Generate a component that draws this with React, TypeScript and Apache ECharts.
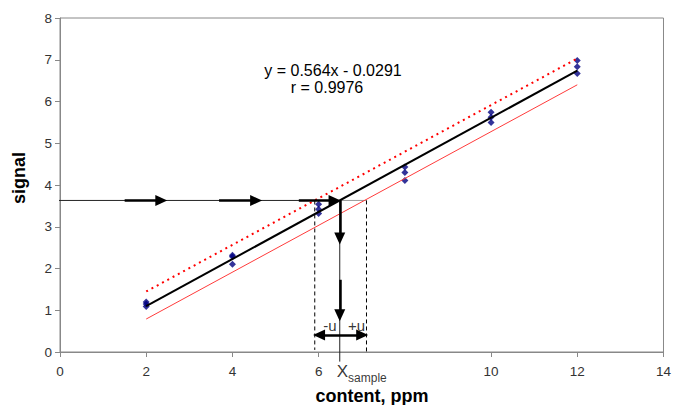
import React, { useEffect, useRef } from "react";
import * as echarts from "echarts";

// calibration standards (ppm) and three replicate signals each
const concentrations = [2, 4, 6, 8, 10, 12];
const signalRep1 = [1.09, 2.1, 3.32, 4.11, 5.5, 6.67];
const signalRep2 = [1.15, 2.28, 3.42, 4.3, 5.62, 6.83];
const signalRep3 = [1.2, 2.32, 3.54, 4.43, 5.74, 6.98];

// regression
const slope = 0.564;
const intercept = -0.0291;
const fitRange = [2, 12];
// confidence band ends (at x = 2 and x = 12)
const upperBand = [1.45, 7.03];
const lowerBand = [0.79, 6.4];

// sample evaluation
const sampleSignal = 3.63;
const sampleContent = 6.49;
const lowerContent = 5.91;
const upperContent = 7.11;

const xTickValues = [0, 2, 4, 6, 10, 12, 14];

const FONT = "Liberation Sans, Arial, sans-serif";

export default function App() {
  const ref = useRef<HTMLDivElement>(null);
  useEffect(() => {
    if (!ref.current) return;
    const chart = echarts.init(ref.current, undefined, { renderer: "svg" });
    const points: number[][] = [];
    concentrations.forEach((c, i) => {
      points.push([c, signalRep1[i]]);
      points.push([c, signalRep2[i]]);
      points.push([c, signalRep3[i]]);
    });
    const fit = fitRange.map((x) => [x, slope * x + intercept]);
    const arrowStyle = { color: "#000", width: 2.5, type: "solid" as const };
    chart.setOption({
      animation: false,
      textStyle: { fontFamily: FONT },
      grid: {
        left: 60,
        right: 8,
        top: 18,
        bottom: 53,
        show: true,
        borderColor: "#888",
        borderWidth: 1,
      },
      xAxis: {
        type: "value",
        min: 0,
        max: 14,
        interval: 2,
        axisLine: { lineStyle: { color: "#888", width: 1 } },
        axisTick: { show: true, length: 5, customValues: xTickValues, lineStyle: { color: "#888" } },
        axisLabel: { customValues: xTickValues, color: "#333", fontSize: 13.5, margin: 12, fontFamily: FONT },
        splitLine: { show: false },
      },
      yAxis: {
        type: "value",
        min: 0,
        max: 8,
        interval: 1,
        axisLine: { show: true, lineStyle: { color: "#888", width: 1 } },
        axisTick: { show: true, length: 5, lineStyle: { color: "#888" } },
        axisLabel: { color: "#333", fontSize: 13.5, margin: 8, fontFamily: FONT },
        splitLine: { show: false },
      },
      graphic: [
        {
          type: "text",
          x: 333,
          y: 70,
          style: { text: "y = 0.564x - 0.0291", font: `16px ${FONT}`, fill: "#000", align: "center", verticalAlign: "middle" },
        },
        {
          type: "text",
          x: 327,
          y: 87,
          style: { text: "r = 0.9976", font: `16px ${FONT}`, fill: "#000", align: "center", verticalAlign: "middle" },
        },
        {
          type: "text",
          x: 19,
          y: 178,
          rotation: Math.PI / 2,
          style: { text: "signal", font: `bold 18px ${FONT}`, fill: "#000", align: "center", verticalAlign: "middle" },
        },
        {
          type: "text",
          x: 372,
          y: 396,
          style: { text: "content, ppm", font: `bold 18px ${FONT}`, fill: "#000", align: "center", verticalAlign: "middle" },
        },
      ],
      series: [
        {
          type: "line",
          data: [[upperContent, sampleSignal], [sampleContent, sampleSignal]],
          symbol: "none",
          clip: false,
          lineStyle: { color: "#999", width: 1 },
        },
        {
          type: "line",
          data: [[-0.25, sampleSignal], [sampleContent, sampleSignal]],
          symbol: "none",
          clip: false,
          lineStyle: { color: "#222", width: 1 },
        },
        {
          type: "line",
          data: [[sampleContent, sampleSignal], [sampleContent, -0.23]],
          symbol: "none",
          clip: false,
          lineStyle: { color: "#222", width: 1 },
        },
        {
          type: "line",
          data: [[lowerContent, sampleSignal], [lowerContent, 0.05]],
          symbol: "none",
          lineStyle: { color: "#000", width: 1, type: [4, 3] },
        },
        {
          type: "line",
          data: [[upperContent, sampleSignal], [upperContent, 0]],
          symbol: "none",
          lineStyle: { color: "#000", width: 1, type: [4, 3] },
        },
        {
          type: "line",
          data: [[fitRange[0], upperBand[0]], [fitRange[1], upperBand[1]]],
          symbol: "none",
          lineStyle: { color: "#ff0000", width: 2, type: [2, 4] },
        },
        {
          type: "line",
          data: [[fitRange[0], lowerBand[0]], [fitRange[1], lowerBand[1]]],
          symbol: "none",
          lineStyle: { color: "#ff3b3b", width: 1 },
        },
        {
          type: "line",
          data: fit,
          symbol: "none",
          lineStyle: { color: "#000", width: 2 },
        },
        {
          type: "scatter",
          data: points,
          symbol: "diamond",
          symbolSize: 7,
          itemStyle: { color: "#000080" },
        },
        {
          type: "line",
          data: [],
          clip: false,
          markLine: {
            silent: true,
            symbol: ["none", "triangle"],
            symbolSize: [11, 12],
            label: { show: false },
            lineStyle: arrowStyle,
            data: [
              [{ coord: [1.5, sampleSignal] }, { coord: [2.35, sampleSignal] }],
              [{ coord: [3.69, sampleSignal] }, { coord: [4.55, sampleSignal] }],
              [{ coord: [5.54, sampleSignal] }, { coord: [sampleContent - 0.12, sampleSignal] }],
              [{ coord: [sampleContent, sampleSignal] }, { coord: [sampleContent, 2.72] }],
              [{ coord: [sampleContent, 1.73] }, { coord: [sampleContent, 0.88] }],
            ],
          },
        },
        {
          type: "line",
          data: [],
          clip: false,
          markLine: {
            silent: true,
            symbol: ["triangle", "triangle"],
            symbolSize: [11, 12],
            label: { show: false },
            lineStyle: arrowStyle,
            data: [[{ coord: [lowerContent + 0.1, 0.41] }, { coord: [upperContent - 0.1, 0.41] }]],
          },
        },
        {
          type: "scatter",
          clip: false,
          symbolSize: 0,
          data: [
            { value: [6.26, 0.64], name: "-u" },
            { value: [6.88, 0.64], name: "+u" },
          ],
          label: {
            show: true,
            position: "inside",
            formatter: "{b}",
            color: "#000",
            fontSize: 15,
            fontFamily: FONT,
          },
        },
        {
          type: "scatter",
          clip: false,
          symbolSize: 0,
          data: [{ value: [6.42, -0.47], name: "Xsample" }],
          label: {
            show: true,
            position: "right",
            distance: 0,
            formatter: "{x|X}{s|sample}",
            rich: {
              x: { fontSize: 17, color: "#000", fontFamily: FONT, verticalAlign: "bottom" },
              s: { fontSize: 12, color: "#000", fontFamily: FONT, verticalAlign: "bottom", padding: [0, 0, -4, 0] },
            },
          },
        },
      ],
    });
    return () => chart.dispose();
  }, []);
  return <div ref={ref} style={{ width: 674, height: 405, position: "absolute", left: 0, top: 0 }} />;
}
